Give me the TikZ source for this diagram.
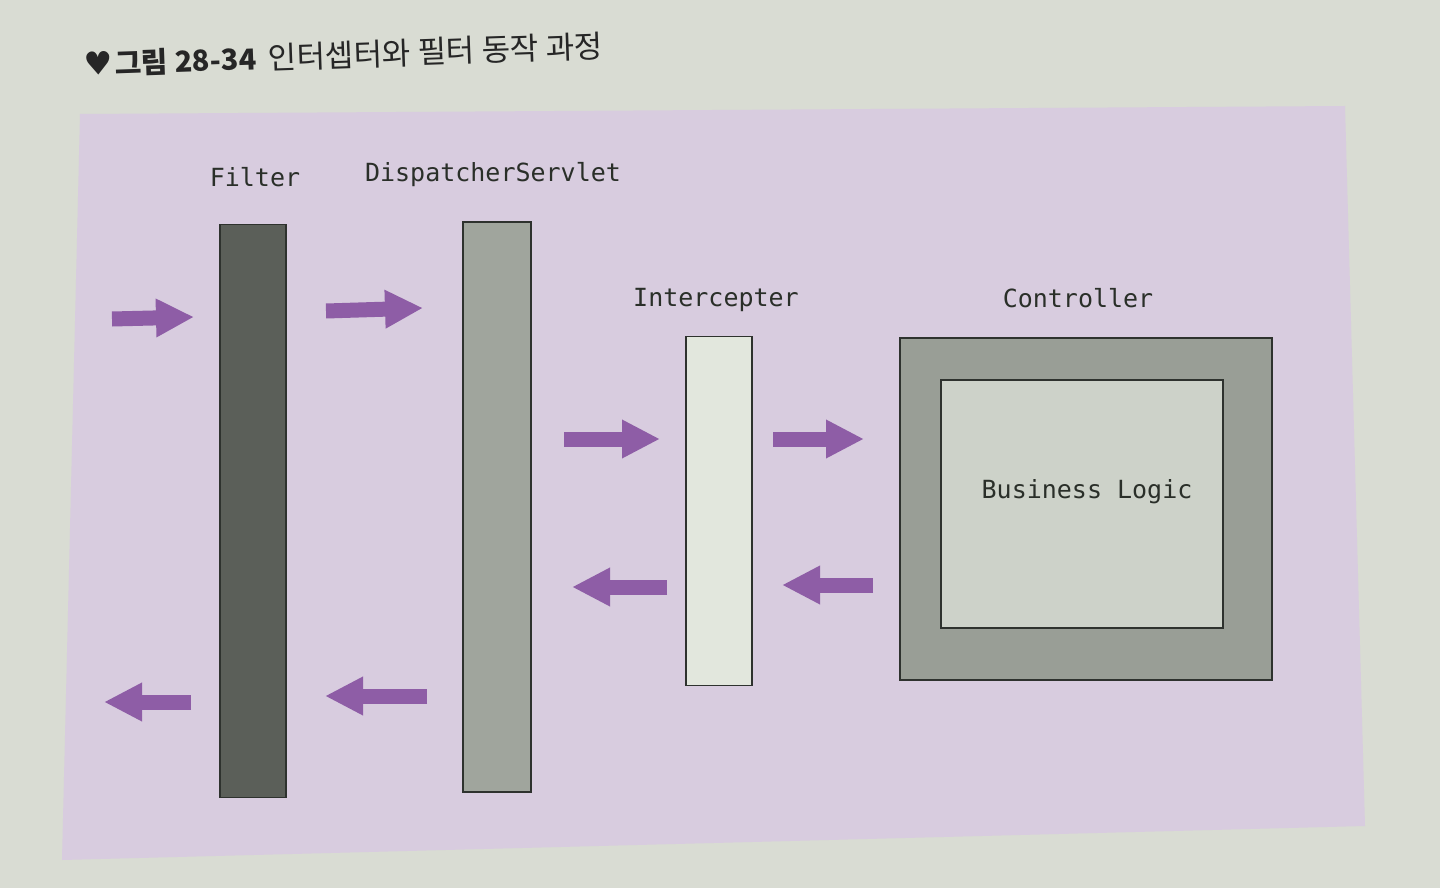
\documentclass[tikz,border=0pt]{standalone}
\usepackage{fontspec}
\usetikzlibrary{arrows.meta}
\newfontfamily\kr{Noto Sans CJK KR}
\newfontfamily\sym{DejaVu Sans}
\newfontfamily\mono{DejaVu Sans Mono}
\definecolor{pagebg}{HTML}{D9DCD3}
\definecolor{panel}{HTML}{D8CCDF}
\definecolor{arrowc}{HTML}{8E5DA6}
\definecolor{filterc}{HTML}{5B5F59}
\definecolor{dispc}{HTML}{A0A59D}
\definecolor{interc}{HTML}{E2E7DD}
\definecolor{ctrlc}{HTML}{999E96}
\definecolor{bizc}{HTML}{CDD2C9}
\definecolor{edgec}{HTML}{2E322E}
\definecolor{txtc}{HTML}{2A2F29}
\tikzset{
  bar/.style={draw=edgec, line width=1.5pt, inner sep=0pt, rectangle},
  lbl/.style={font=\mono\fontsize{25}{28}\selectfont, text=txtc, inner sep=0pt},
  flow/.style={draw=arrowc, line width=15pt, line cap=butt,
    -{Triangle[length=38pt 0 0, width=36pt 0 0]}},
}
\begin{document}
\begin{tikzpicture}[x=1pt,y=-1pt]
\useasboundingbox (0,0) rectangle (1440,888);
\fill[pagebg] (0,0) rectangle (1440,888);
% purple panel
\fill[panel] (80,114) -- (1345,106) -- (1365,826) -- (62,860) -- cycle;
% title
\node[anchor=west, rotate=2, inner sep=0pt, text=black!85] (title) at (84,64)
  {{\sym\fontsize{32}{36}\selectfont ♥}\hspace{2pt}{\kr\bfseries\fontsize{29}{34}\selectfont 그림 28-34}\hspace{12pt}{\kr\fontsize{31}{36}\selectfont 인터셉터와 필터 동작 과정}};
% bars
\node[bar, fill=filterc, minimum width=66pt, minimum height=573pt] (filter) at (253,511) {};
\node[bar, fill=dispc, minimum width=68pt, minimum height=570pt] (disp) at (497,507) {};
\node[bar, fill=interc, minimum width=66pt, minimum height=349pt] (inter) at (719,511) {};
\node[bar, fill=ctrlc, minimum width=372pt, minimum height=342pt] (ctrl) at (1086,509) {};
\node[bar, fill=bizc, minimum width=282pt, minimum height=248pt] (biz) at (1082,504) {};
% labels
\node[lbl] (lfilter) at (255,177) {Filter};
\node[lbl] (ldisp) at (493,175) {DispatcherServlet};
\node[lbl] (linter) at (716,300) {Intercepter};
\node[lbl] (lctrl) at (1078,298) {Controller};
\node[lbl] (lbiz) at (1087,492) {Business Logic};
% arrows
\coordinate (a1s) at (112,319); \coordinate (a1e) at (194,317);
\coordinate (a2s) at (326,311); \coordinate (a2e) at (423,308);
\coordinate (a3s) at (564,439); \coordinate (a3e) at (660,439);
\coordinate (a4s) at (773,439); \coordinate (a4e) at (864,439);
\coordinate (a5s) at (667,587); \coordinate (a5e) at (572,587);
\coordinate (a6s) at (873,585); \coordinate (a6e) at (782,585);
\coordinate (a7s) at (191,702); \coordinate (a7e) at (104,702);
\coordinate (a8s) at (427,696); \coordinate (a8e) at (325,696);
\draw[flow] (a1s) -- (a1e);
\draw[flow] (a2s) -- (a2e);
\draw[flow] (a3s) -- (a3e);
\draw[flow] (a4s) -- (a4e);
\draw[flow] (a5s) -- (a5e);
\draw[flow] (a6s) -- (a6e);
\draw[flow] (a7s) -- (a7e);
\draw[flow] (a8s) -- (a8e);
\end{tikzpicture}
\end{document}
